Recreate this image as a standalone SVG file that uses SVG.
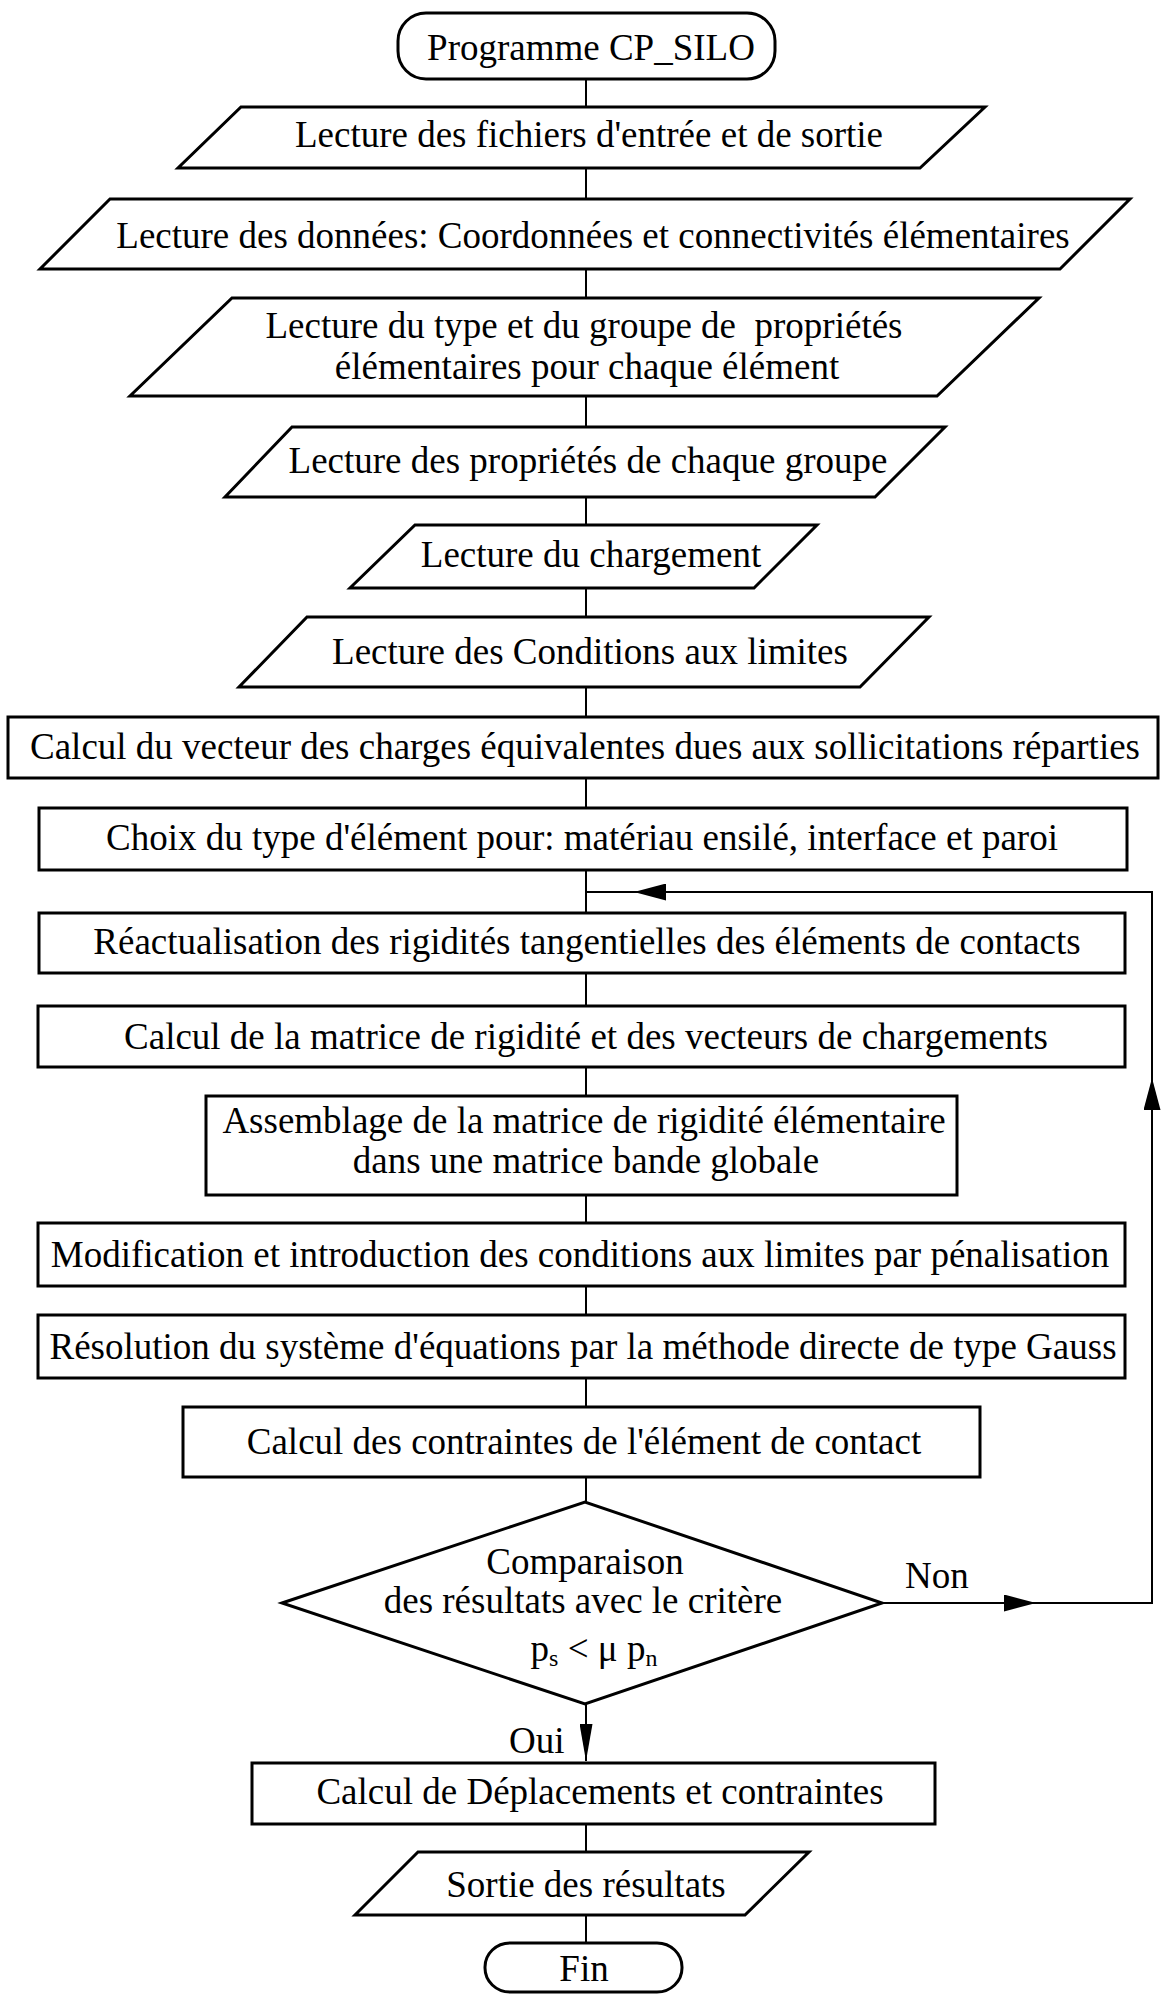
<svg xmlns="http://www.w3.org/2000/svg" width="1162" height="1996" viewBox="0 0 1162 1996">
<style>
.shape{fill:#fff;stroke:#000;stroke-width:3;stroke-linejoin:miter}
.t{font-family:"Liberation Serif","Times New Roman",serif;font-size:37px;fill:#000;text-anchor:middle}
.ts{font-family:"Liberation Serif","Times New Roman",serif;font-size:37px;fill:#000}
.c{fill:none;stroke:#000;stroke-width:2}
</style>
<defs>
<marker id="arr" markerUnits="userSpaceOnUse" markerWidth="32" markerHeight="17" refX="32" refY="8.5" orient="auto">
<path d="M0,0 L32,8.5 L0,17 z" fill="#000"/>
</marker>
<marker id="arrN" markerUnits="userSpaceOnUse" markerWidth="37" markerHeight="13" refX="37" refY="6.5" orient="auto">
<path d="M0,0 L37,6.5 L0,13 z" fill="#000"/>
</marker>
</defs>
<rect width="1162" height="1996" fill="#fff"/>
<g id="connectors">
<path class="c" d="M586,79 V107 M586,168 V199 M586,269 V298 M586,396 V427 M586,497 V525 M586,588 V617 M586,687 V717 M586,778 V808 M586,870 V913 M586,973 V1006 M586,1067 V1096 M586,1195 V1223 M586,1286 V1315 M586,1378 V1407 M586,1477 V1502 M586,1824 V1852 M586,1915 V1943"/>
<path class="c" d="M586,1704 V1761" marker-end="url(#arrN)"/>
<path class="c" d="M882,1603 H1036" marker-end="url(#arr)"/>
<path class="c" d="M1036,1603 H1152 V1078" marker-end="url(#arr)"/>
<path class="c" d="M1152,1078 V892 H634" marker-end="url(#arr)"/>
<path class="c" d="M634,892 H586"/>
<text class="ts" x="905" y="1588">Non</text>
<text class="ts" x="509" y="1753">Oui</text>
</g>
<g id="start">
<rect class="shape" x="398" y="13" width="377" height="66" rx="28" ry="28"/>
<text class="t" x="591" y="60">Programme CP_SILO</text>
</g>
<g id="lecture-fichiers">
<polygon class="shape" points="241,107 985,107 920,168 178,168"/>
<text class="t" x="589" y="147">Lecture des fichiers d'entrée et de sortie</text>
</g>
<g id="lecture-donnees">
<polygon class="shape" points="110,199 1130,199 1060,269 40,269"/>
<text class="t" x="593" y="248">Lecture des données: Coordonnées et connectivités élémentaires</text>
</g>
<g id="lecture-type">
<polygon class="shape" points="232,298 1039,298 937,396 130,396"/>
<text class="t" x="584" y="338" xml:space="preserve">Lecture du type et du groupe de  propriétés</text>
<text class="t" x="587" y="379">élémentaires pour chaque élément</text>
</g>
<g id="lecture-proprietes">
<polygon class="shape" points="292,427 945,427 875,497 225,497"/>
<text class="t" x="588" y="473">Lecture des propriétés de chaque groupe</text>
</g>
<g id="lecture-chargement">
<polygon class="shape" points="415,525 817,525 754,588 350,588"/>
<text class="t" x="591" y="567">Lecture du chargement</text>
</g>
<g id="lecture-conditions">
<polygon class="shape" points="307,617 929,617 860,687 239,687"/>
<text class="t" x="590" y="664">Lecture des Conditions aux limites</text>
</g>
<g id="calcul-vecteur">
<rect class="shape" x="8" y="717" width="1150" height="61"/>
<text class="t" x="585" y="759">Calcul du vecteur des charges équivalentes dues aux sollicitations réparties</text>
</g>
<g id="choix-type">
<rect class="shape" x="39" y="808" width="1088" height="62"/>
<text class="t" x="582" y="850">Choix du type d'élément pour: matériau ensilé, interface et paroi</text>
</g>
<g id="reactualisation">
<rect class="shape" x="39" y="913" width="1086" height="60"/>
<text class="t" x="587" y="954">Réactualisation des rigidités tangentielles des éléments de contacts</text>
</g>
<g id="calcul-matrice">
<rect class="shape" x="38" y="1006" width="1087" height="61"/>
<text class="t" x="586" y="1049">Calcul de la matrice de rigidité et des vecteurs de chargements</text>
</g>
<g id="assemblage">
<rect class="shape" x="206" y="1096" width="751" height="99"/>
<text class="t" x="584" y="1133">Assemblage de la matrice de rigidité élémentaire</text>
<text class="t" x="586" y="1173">dans une matrice bande globale</text>
</g>
<g id="modification">
<rect class="shape" x="38" y="1223" width="1087" height="63"/>
<text class="t" x="580" y="1267">Modification et introduction des conditions aux limites par pénalisation</text>
</g>
<g id="resolution">
<rect class="shape" x="38" y="1315" width="1087" height="63"/>
<text class="t" x="583" y="1359">Résolution du système d'équations par la méthode directe de type Gauss</text>
</g>
<g id="contraintes-contact">
<rect class="shape" x="183" y="1407" width="797" height="70"/>
<text class="t" x="584" y="1454">Calcul des contraintes de l'élément de contact</text>
</g>
<g id="comparaison">
<polygon class="shape" points="282,1603 585,1502 882,1603 585,1704"/>
<text class="t" x="585" y="1574">Comparaison</text>
<text class="t" x="583" y="1613">des résultats avec le critère</text>
<text class="t" x="594" y="1661">p<tspan font-size="24" dy="5">s</tspan><tspan dy="-5"> &lt; μ p</tspan><tspan font-size="24" dy="5">n</tspan></text>
</g>
<g id="deplacements">
<rect class="shape" x="252" y="1763" width="683" height="61"/>
<text class="t" x="600" y="1804">Calcul de Déplacements et contraintes</text>
</g>
<g id="sortie">
<polygon class="shape" points="418,1852 809,1852 745,1915 355,1915"/>
<text class="t" x="586" y="1897">Sortie des résultats</text>
</g>
<g id="fin">
<rect class="shape" x="485" y="1943" width="197" height="49" rx="25" ry="24"/>
<text class="t" x="584" y="1981">Fin</text>
</g>
</svg>
